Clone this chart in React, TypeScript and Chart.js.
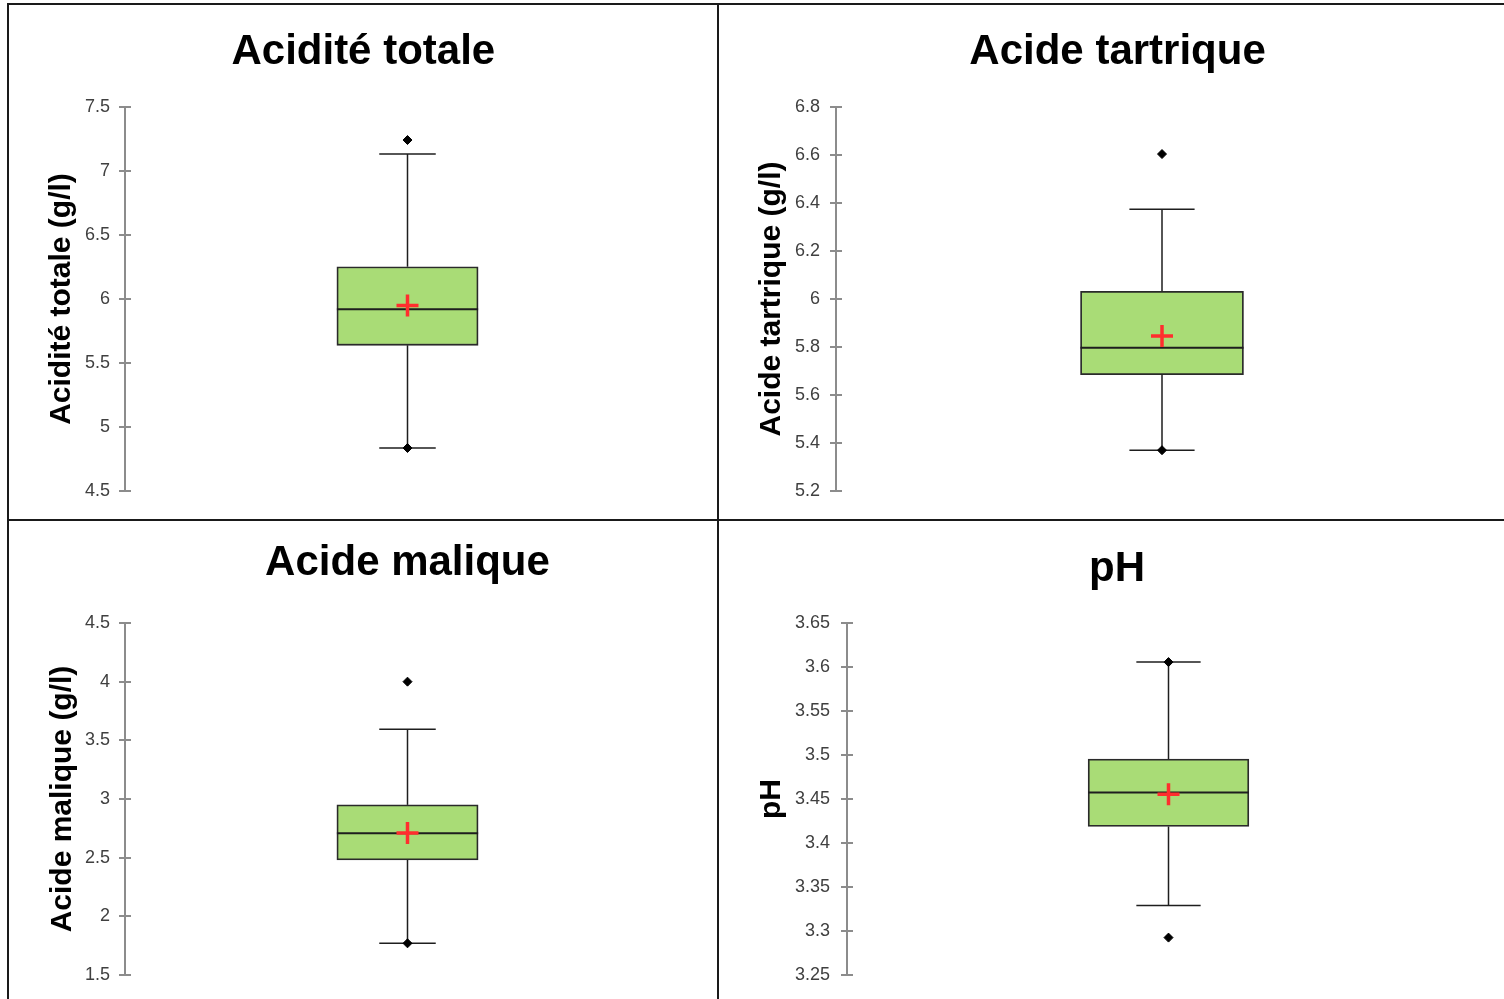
import React, { useEffect, useRef } from "react";
import { Chart, registerables } from "chart.js";

Chart.register(...registerables);
Chart.defaults.font.family = '"Liberation Sans", Arial, Helvetica, sans-serif';

// ---------- data ----------
const panelTitles = ["Acidité totale", "Acide tartrique", "Acide malique", "pH"];
const axisTitles = ["Acidité totale (g/l)", "Acide tartrique (g/l)", "Acide malique (g/l)", "pH"];
const minValues = [4.836, 5.37, 1.77, 3.2925];
const lowerWhiskers = [4.836, 5.37, 1.77, 3.329];
const q1Values = [5.638, 5.685, 2.48, 3.4187];
const medianValues = [5.919, 5.797, 2.708, 3.4574];
const meanValues = [5.95, 5.846, 2.71, 3.4555];
const q3Values = [6.252, 6.032, 2.95, 3.4954];
const upperWhiskers = [7.133, 6.374, 3.595, 3.6056];
const maxValues = [7.242, 6.604, 4.0, 3.6056];
const axisMin = [4.5, 5.2, 1.5, 3.25];
const axisMax = [7.5, 6.8, 4.5, 3.65];
const axisStep = [0.5, 0.2, 0.5, 0.05];

// ---------- layout / style ----------
const BOX_HALF = 0.125;
const CAP_HALF = 0.05;
const GREEN = "rgb(169, 220, 118)";
const DARK = "#1e1e1e";
const AXIS_GREY = "#8c8c8c";

const PANELS = [
  { left: 10, top: 6, width: 707, height: 513, padL: 26.6, axisW: 88.4, yTitlePad: 7, padR: 27, padB: 28, tPadTop: 21.3, tPadBottom: 29.3, tickPad: 9, fullSize: true },
  { left: 720, top: 6, width: 796, height: 513, padL: 27.1, axisW: 88.9, yTitlePad: 7, padR: 28, padB: 28, tPadTop: 21.3, tPadBottom: 29.3, tickPad: 10, fullSize: true },
  { left: 10, top: 522, width: 707, height: 490, padL: 35.1, axisW: 79.9, yTitlePad: 0, padR: 27, padB: 37, tPadTop: 16.3, tPadBottom: 34.3, tickPad: 9, fullSize: false },
  { left: 720, top: 522, width: 796, height: 490, padL: 24.1, axisW: 102.9, yTitlePad: 10, padR: 26, padB: 37, tPadTop: 22, tPadBottom: 28.6, tickPad: 11, fullSize: true },
];

function fmt(v: number) {
  return String(Number(Number(v).toFixed(3)));
}

function BoxPanel({ i }: { i: number }) {
  const ref = useRef<HTMLCanvasElement | null>(null);
  const p = PANELS[i];

  useEffect(() => {
    if (!ref.current) return;
    const areaW = p.width - p.padL - p.axisW - p.padR;
    const boxPx = areaW * BOX_HALF * 2;

    const lineDs = (pts: { x: number; y: number }[], order: number, width = 1.5) => ({
      type: "line" as const,
      xAxisID: "x",
      yAxisID: "y",
      data: pts,
      borderColor: DARK,
      borderWidth: width,
      pointRadius: 0,
      fill: false,
      tension: 0,
      order,
    });

    const chart = new Chart(ref.current, {
      type: "bar",
      data: {
        datasets: [
          {
            type: "bar",
            xAxisID: "x",
            yAxisID: "y",
            data: [{ x: 0, y: [q1Values[i], q3Values[i]] }] as any,
            backgroundColor: GREEN,
            borderColor: "#2a2a2a",
            borderWidth: 1.8,
            borderSkipped: false,
            grouped: false,
            barThickness: boxPx,
            order: 6,
          } as any,
          lineDs([{ x: 0, y: q3Values[i] }, { x: 0, y: upperWhiskers[i] }], 5),
          lineDs([{ x: 0, y: q1Values[i] }, { x: 0, y: lowerWhiskers[i] }], 5),
          lineDs([{ x: -CAP_HALF, y: upperWhiskers[i] }, { x: CAP_HALF, y: upperWhiskers[i] }], 5),
          lineDs([{ x: -CAP_HALF, y: lowerWhiskers[i] }, { x: CAP_HALF, y: lowerWhiskers[i] }], 5),
          lineDs([{ x: -BOX_HALF, y: medianValues[i] }, { x: BOX_HALF, y: medianValues[i] }], 3, 2),
          {
            type: "scatter",
            xAxisID: "x",
            yAxisID: "y",
            data: [{ x: 0, y: minValues[i] }, { x: 0, y: maxValues[i] }],
            pointStyle: "rectRot",
            pointRadius: 4.5,
            backgroundColor: "#000",
            borderColor: "#000",
            borderWidth: 1,
            order: 2,
          } as any,
          {
            type: "scatter",
            xAxisID: "x",
            yAxisID: "y",
            data: [{ x: 0, y: meanValues[i] }],
            pointStyle: "cross",
            pointRadius: 11,
            borderColor: "#ff2e2e",
            backgroundColor: "#ff2e2e",
            borderWidth: 3.5,
            order: 1,
          } as any,
        ],
      },
      options: {
        responsive: false,
        animation: false,
        events: [],
        layout: { padding: { left: p.padL, right: p.padR, top: 0, bottom: p.padB } },
        plugins: {
          legend: { display: false },
          tooltip: { enabled: false },
          title: {
            display: true,
            text: panelTitles[i],
            color: "#000",
            fullSize: p.fullSize,
            font: { size: 42, weight: "bold", lineHeight: 1.2 },
            padding: { top: p.tPadTop, bottom: p.tPadBottom },
          },
        },
        scales: {
          x: {
            type: "linear",
            display: false,
            offset: false,
            min: -0.5,
            max: 0.5,
            grid: { offset: false },
          },
          y: {
            type: "linear",
            position: "left",
            weight: 1,
            min: axisMin[i],
            max: axisMax[i],
            afterFit: (scale: any) => {
              scale.width = p.axisW;
              scale.paddingTop = 0;
              scale.paddingBottom = 0;
            },
            ticks: {
              stepSize: axisStep[i],
              color: "#404040",
              font: { size: 18 },
              padding: p.tickPad,
              callback: (v: any) => fmt(v),
            },
            grid: { drawOnChartArea: false, tickLength: 6, color: AXIS_GREY, lineWidth: 2 },
            border: { display: true, color: AXIS_GREY, width: 2 },
            title: {
              display: true,
              text: axisTitles[i],
              color: "#000",
              font: { size: 30, weight: "bold", lineHeight: 1.2 },
              padding: { top: p.yTitlePad, bottom: 0 },
            },
          },
          yIn: {
            type: "linear",
            axis: "y",
            position: "left",
            weight: 0,
            min: axisMin[i],
            max: axisMax[i],
            afterFit: (scale: any) => {
              scale.width = 0;
              scale.paddingTop = 0;
              scale.paddingBottom = 0;
            },
            ticks: { display: false, stepSize: axisStep[i] },
            grid: { drawOnChartArea: false, tickLength: -6, color: AXIS_GREY, lineWidth: 2 },
            border: { display: false },
          },
        } as any,
      },
    });
    return () => chart.destroy();
  }, [i]);

  return (
    <canvas
      ref={ref}
      width={p.width}
      height={p.height}
      style={{ position: "absolute", left: p.left, top: p.top, width: p.width, height: p.height }}
    />
  );
}

export default function App() {
  const line = (s: React.CSSProperties) => (
    <div style={{ position: "absolute", background: "#1a1a1a", ...s }} />
  );
  return (
    <div
      style={{
        position: "absolute",
        left: 0,
        top: 0,
        width: 1504,
        height: 999,
        overflow: "hidden",
        background: "#fff",
      }}
    >
      {[0, 1, 2, 3].map((i) => (
        <BoxPanel key={i} i={i} />
      ))}
      {line({ left: 7, top: 3, width: 1497, height: 2 })}
      {line({ left: 7, top: 3, width: 2, height: 996 })}
      {line({ left: 717, top: 3, width: 2, height: 996 })}
      {line({ left: 7, top: 519, width: 1497, height: 2 })}
    </div>
  );
}
